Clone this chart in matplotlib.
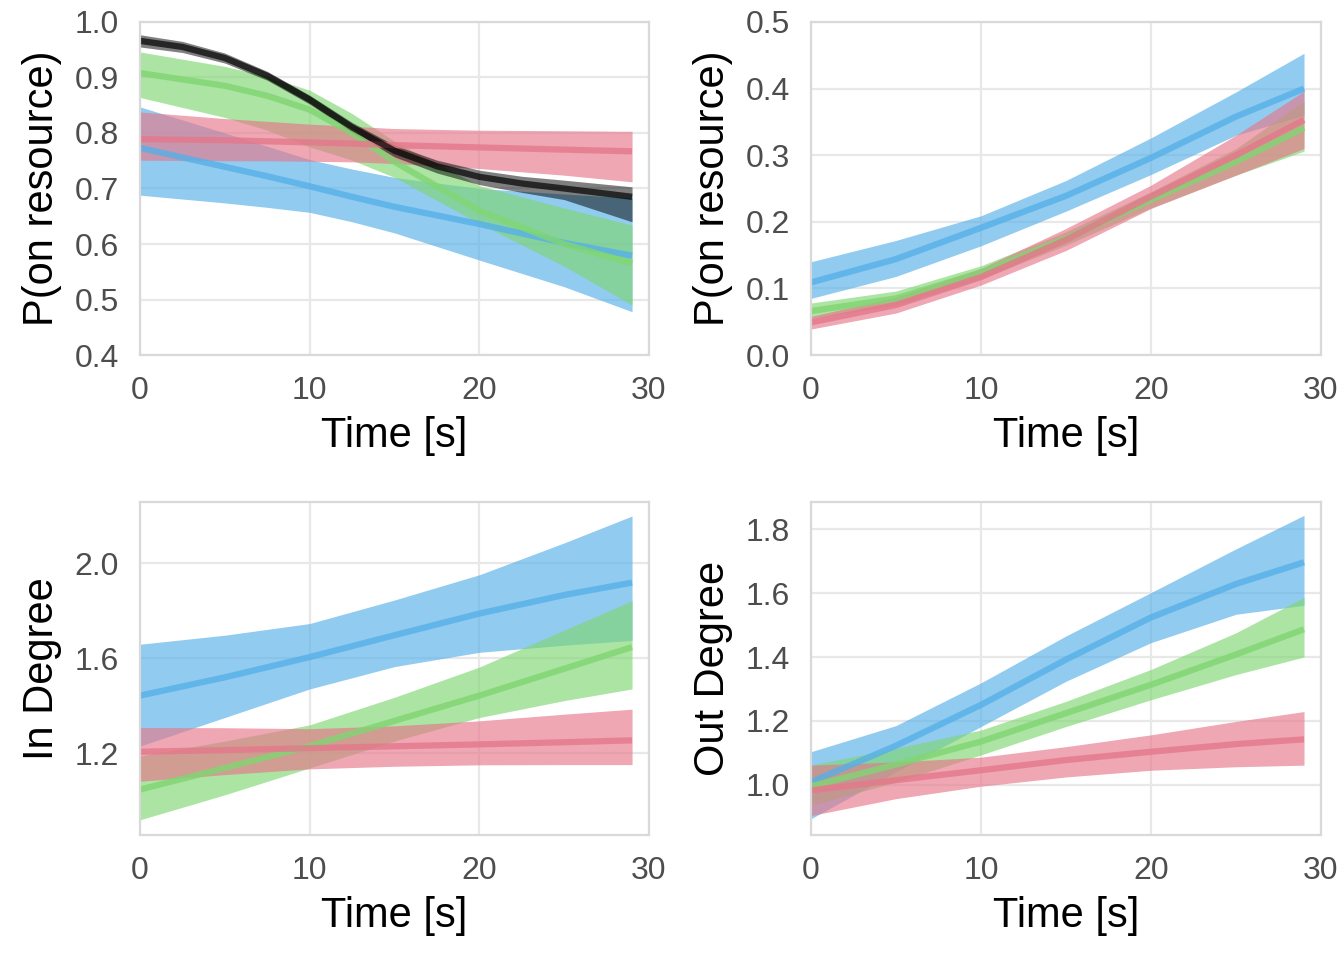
import matplotlib
matplotlib.use("Agg")
import matplotlib.pyplot as plt
from matplotlib.ticker import FormatStrFormatter

plt.rcParams['font.family'] = ['Liberation Sans', 'DejaVu Sans']

BLUE = '#56B0E8'
GREEN = '#80D672'
RED = '#E5788B'
BLACK = '#000000'

# ---- panel 1: P(on resource), first measure ----
t1 = [0, 5, 7.5, 10, 12.5, 15, 20, 25, 29]
p1_blue = [0.773, 0.739, 0.722, 0.704, 0.685, 0.667, 0.636, 0.602, 0.579]
p1_blue_hi = [0.847, 0.800, 0.776, 0.752, 0.735, 0.720, 0.700, 0.690, 0.683]
p1_blue_lo = [0.688, 0.674, 0.666, 0.657, 0.640, 0.620, 0.571, 0.523, 0.478]
p1_green = [0.908, 0.885, 0.867, 0.842, 0.800, 0.748, 0.660, 0.600, 0.565]
p1_green_hi = [0.946, 0.920, 0.902, 0.877, 0.835, 0.785, 0.705, 0.665, 0.634]
p1_green_lo = [0.864, 0.828, 0.805, 0.775, 0.751, 0.720, 0.637, 0.560, 0.490]
p1_red = [0.789, 0.787, 0.785, 0.783, 0.781, 0.778, 0.774, 0.770, 0.767]
p1_red_hi = [0.838, 0.826, 0.821, 0.816, 0.812, 0.808, 0.805, 0.804, 0.803]
p1_red_lo = [0.751, 0.750, 0.750, 0.749, 0.748, 0.745, 0.736, 0.724, 0.712]
t1_black = [0, 2.5, 5, 7.5, 10, 12.5, 15, 17.5, 20, 22.5, 25, 29]
p1_black = [0.966, 0.955, 0.935, 0.903, 0.860, 0.810, 0.768, 0.740, 0.721, 0.709, 0.700, 0.685]
p1_black_hi = [0.977, 0.965, 0.944, 0.911, 0.868, 0.819, 0.778, 0.751, 0.733, 0.722, 0.715, 0.703]
p1_black_lo = [0.955, 0.945, 0.926, 0.895, 0.852, 0.801, 0.757, 0.728, 0.707, 0.693, 0.680, 0.640]

# ---- panels 2-4 share the same time points ----
t = [0, 5, 10, 15, 20, 25, 29]

# panel 2: P(on resource), second measure
p2_blue = [0.109, 0.144, 0.191, 0.239, 0.296, 0.358, 0.400]
p2_blue_hi = [0.140, 0.172, 0.209, 0.262, 0.326, 0.395, 0.453]
p2_blue_lo = [0.085, 0.118, 0.164, 0.216, 0.271, 0.330, 0.360]
p2_green = [0.066, 0.085, 0.124, 0.175, 0.233, 0.290, 0.341]
p2_green_hi = [0.078, 0.096, 0.134, 0.185, 0.245, 0.310, 0.381]
p2_green_lo = [0.055, 0.074, 0.114, 0.165, 0.221, 0.270, 0.306]
p2_red = [0.049, 0.075, 0.117, 0.173, 0.238, 0.300, 0.353]
p2_red_hi = [0.058, 0.087, 0.130, 0.190, 0.255, 0.330, 0.396]
p2_red_lo = [0.039, 0.063, 0.105, 0.157, 0.220, 0.270, 0.310]

# panel 3: In Degree
p3_blue = [1.443, 1.520, 1.605, 1.697, 1.788, 1.866, 1.918]
p3_blue_hi = [1.659, 1.697, 1.746, 1.845, 1.951, 2.085, 2.198]
p3_blue_lo = [1.231, 1.351, 1.471, 1.565, 1.625, 1.655, 1.675]
p3_green = [1.048, 1.139, 1.231, 1.337, 1.443, 1.556, 1.647]
p3_green_hi = [1.189, 1.252, 1.320, 1.436, 1.563, 1.718, 1.842]
p3_green_lo = [0.921, 1.026, 1.139, 1.252, 1.351, 1.422, 1.471]
p3_red = [1.207, 1.214, 1.222, 1.230, 1.238, 1.247, 1.255]
p3_red_hi = [1.309, 1.308, 1.304, 1.316, 1.337, 1.365, 1.386]
p3_red_lo = [1.083, 1.111, 1.135, 1.146, 1.152, 1.153, 1.153]

# panel 4: Out Degree
p4_blue = [1.008, 1.122, 1.250, 1.392, 1.524, 1.629, 1.697]
p4_blue_hi = [1.103, 1.185, 1.319, 1.466, 1.602, 1.739, 1.844]
p4_blue_lo = [0.893, 1.040, 1.182, 1.324, 1.445, 1.534, 1.562]
p4_green = [0.995, 1.063, 1.135, 1.224, 1.313, 1.408, 1.487]
p4_green_hi = [1.061, 1.114, 1.171, 1.261, 1.361, 1.476, 1.587]
p4_green_lo = [0.935, 1.008, 1.093, 1.182, 1.266, 1.345, 1.400]
p4_red = [0.982, 1.014, 1.045, 1.077, 1.103, 1.127, 1.142]
p4_red_hi = [1.061, 1.071, 1.086, 1.119, 1.156, 1.198, 1.229]
p4_red_lo = [0.903, 0.956, 0.995, 1.024, 1.045, 1.056, 1.061]

panels = [
    dict(pos=[0.1042, 0.6302, 0.3787, 0.3469], ylabel='P(on resource)',
         ylim=(0.4, 1.0), yticks=[0.4, 0.5, 0.6, 0.7, 0.8, 0.9, 1.0],
         series=[(t1, p1_blue, p1_blue_lo, p1_blue_hi, BLUE, 0.65),
                 (t1, p1_green, p1_green_lo, p1_green_hi, GREEN, 0.65),
                 (t1, p1_red, p1_red_lo, p1_red_hi, RED, 0.65),
                 (t1_black, p1_black, p1_black_lo, p1_black_hi, BLACK, 0.5)]),
    dict(pos=[0.6034, 0.6302, 0.3795, 0.3469], ylabel='P(on resource)',
         ylim=(0.0, 0.5), yticks=[0.0, 0.1, 0.2, 0.3, 0.4, 0.5],
         series=[(t, p2_blue, p2_blue_lo, p2_blue_hi, BLUE, 0.65),
                 (t, p2_green, p2_green_lo, p2_green_hi, GREEN, 0.65),
                 (t, p2_red, p2_red_lo, p2_red_hi, RED, 0.65)]),
    dict(pos=[0.1042, 0.1302, 0.3787, 0.3469], ylabel='In Degree',
         ylim=(0.857, 2.257), yticks=[1.2, 1.6, 2.0],
         series=[(t, p3_blue, p3_blue_lo, p3_blue_hi, BLUE, 0.65),
                 (t, p3_green, p3_green_lo, p3_green_hi, GREEN, 0.65),
                 (t, p3_red, p3_red_lo, p3_red_hi, RED, 0.65)]),
    dict(pos=[0.6034, 0.1302, 0.3795, 0.3469], ylabel='Out Degree',
         ylim=(0.842, 1.886), yticks=[1.0, 1.2, 1.4, 1.6, 1.8],
         series=[(t, p4_blue, p4_blue_lo, p4_blue_hi, BLUE, 0.65),
                 (t, p4_green, p4_green_lo, p4_green_hi, GREEN, 0.65),
                 (t, p4_red, p4_red_lo, p4_red_hi, RED, 0.65)]),
]

fig = plt.figure(figsize=(13.44, 9.6), dpi=100)

for p in panels:
    ax = fig.add_axes(p['pos'])
    # ribbons first, then lines on top (ggplot-like layering)
    for x, y, lo, hi, col, a in p['series']:
        ax.fill_between(x, lo, hi, color=col, alpha=a, linewidth=0)
    for x, y, lo, hi, col, a in p['series']:
        la = 0.7 if col == BLACK else 0.8
        ax.plot(x, y, color=col, lw=4.5, alpha=la, solid_capstyle='butt',
                solid_joinstyle='round')

    ax.set_xlim(0, 30)
    ax.set_ylim(*p['ylim'])
    ax.set_xticks([0, 10, 20, 30])
    ax.set_yticks(p['yticks'])
    ax.yaxis.set_major_formatter(FormatStrFormatter('%.1f'))
    ax.grid(True, color='#E8E8E8', lw=1.6)
    ax.set_axisbelow(True)
    for s in ax.spines.values():
        s.set_color('#D9D9D9')
        s.set_linewidth(1.6)
    ax.tick_params(length=0, labelsize=23, labelcolor='#4D4D4D', pad=15)
    ax.set_xlabel('Time [s]', fontsize=30, labelpad=7)
    ax.set_ylabel(p['ylabel'], fontsize=30, labelpad=9)

fig.savefig('out.png', dpi=100)
